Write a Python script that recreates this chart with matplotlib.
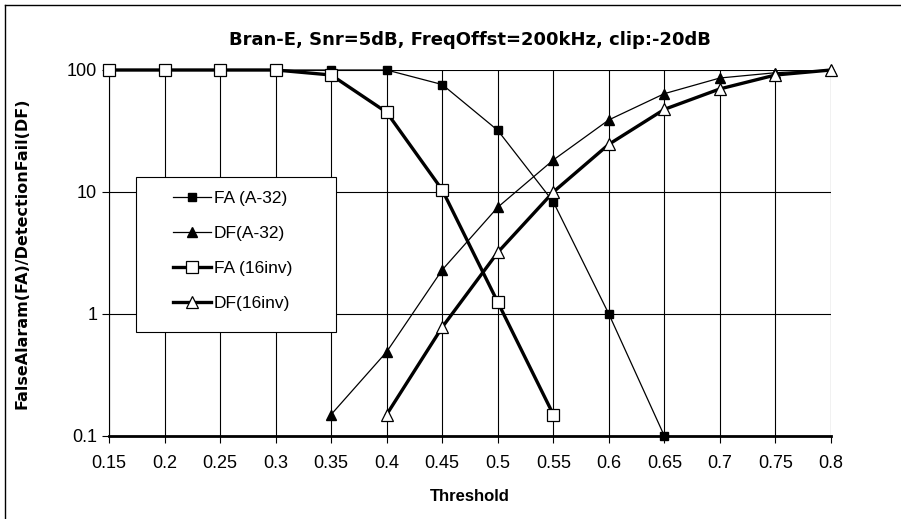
import matplotlib
matplotlib.use('agg')
import matplotlib.pyplot as plt
from matplotlib.patches import Rectangle
from matplotlib.lines import Line2D

plt.rcParams['font.family'] = ['Liberation Sans', 'DejaVu Sans']

threshold = [0.15, 0.2, 0.25, 0.3, 0.35, 0.4, 0.45, 0.5, 0.55, 0.6, 0.65, 0.7, 0.75, 0.8]
tick_labels = ['0.15', '0.2', '0.25', '0.3', '0.35', '0.4', '0.45', '0.5', '0.55',
               '0.6', '0.65', '0.7', '0.75', '0.8']

# FA (A-32): 0.15 .. 0.65
fa_a32_x = [0.15, 0.2, 0.25, 0.3, 0.35, 0.4, 0.45, 0.5, 0.55, 0.6, 0.65]
fa_a32 = [100, 100, 100, 100, 100, 100, 76, 32, 8.3, 1.0, 0.1]
# DF(A-32): 0.35 .. 0.8
df_a32_x = [0.35, 0.4, 0.45, 0.5, 0.55, 0.6, 0.65, 0.7, 0.75, 0.8]
df_a32 = [0.15, 0.49, 2.3, 7.5, 18.3, 39, 64, 86, 95, 100]
# FA (16inv): 0.15 .. 0.55
fa_16_x = [0.15, 0.2, 0.25, 0.3, 0.35, 0.4, 0.45, 0.5, 0.55]
fa_16 = [100, 100, 100, 100, 91, 45, 10.4, 1.25, 0.15]
# DF(16inv): 0.4 .. 0.8
df_16_x = [0.4, 0.45, 0.5, 0.55, 0.6, 0.65, 0.7, 0.75, 0.8]
df_16 = [0.15, 0.78, 3.2, 10, 24.6, 47.6, 70, 91, 100]

fig = plt.figure(figsize=(9.01, 5.19), dpi=100)
ax = fig.add_axes([109/901, 1-436/519, 722/901, 366/519])

ax.plot(fa_a32_x, fa_a32, color='black', lw=0.9, marker='s', ms=6,
        mfc='black', mec='black', label='FA (A-32)', clip_on=False, zorder=3)
ax.plot(df_a32_x, df_a32, color='black', lw=0.9, marker='^', ms=6.5,
        mfc='black', mec='black', label='DF(A-32)', clip_on=False, zorder=3)
ax.plot(fa_16_x, fa_16, color='black', lw=2.4, marker='s', ms=8,
        mfc='white', mec='black', mew=0.9, label='FA (16inv)', clip_on=False, zorder=4)
ax.plot(df_16_x, df_16, color='black', lw=2.4, marker='^', ms=9,
        mfc='white', mec='black', mew=0.9, label='DF(16inv)', clip_on=False, zorder=4)

ax.set_yscale('log')
ax.set_ylim(0.1, 100)
ax.set_xlim(0.15, 0.8)
ax.set_xticks(threshold)
ax.set_xticklabels(tick_labels)
ax.set_yticks([0.1, 1, 10, 100])
ax.set_yticklabels(['0.1', '1', '10', '100'])
ax.minorticks_off()
ax.tick_params(axis='both', labelsize=13, length=5, width=0.8, color='black', direction='out')
ax.tick_params(axis='x', pad=9)
ax.grid(True, color='black', lw=0.8)
for s in ['top', 'right']:
    ax.spines[s].set_visible(False)
ax.spines['bottom'].set_linewidth(2)
ax.spines['left'].set_linewidth(0.8)

ax.set_title('Bran-E, Snr=5dB, FreqOffst=200kHz, clip:-20dB', fontsize=13,
             fontweight='bold', family='DejaVu Sans', pad=18)
ax.set_xlabel('Threshold', fontsize=12, fontweight='bold', labelpad=12)
ax.set_ylabel('FalseAlaram(FA)/DetectionFail(DF)', fontsize=11.5, fontweight='bold',
              family='DejaVu Sans', labelpad=27)

# legend box
ax.add_patch(Rectangle((136/901, 1-332/519), 200/901, 155/519, transform=fig.transFigure,
                       facecolor='white', edgecolor='black', lw=0.8, zorder=4.5, clip_on=False))
leg = ax.legend(loc='upper left', bbox_to_anchor=(166/901, 1-184/519), bbox_transform=fig.transFigure,
                frameon=False, fontsize=12.5, handlelength=2.2, handletextpad=0.15,
                labelspacing=1.15, borderaxespad=0)
leg.set_zorder(5)

# outer chart border
fig.add_artist(Line2D([5/901, 5/901], [0, 1-5/519], color='black', lw=1))
fig.add_artist(Line2D([5/901, 1], [1-5/519, 1-5/519], color='black', lw=1))

fig.savefig('out.png', dpi=100)
